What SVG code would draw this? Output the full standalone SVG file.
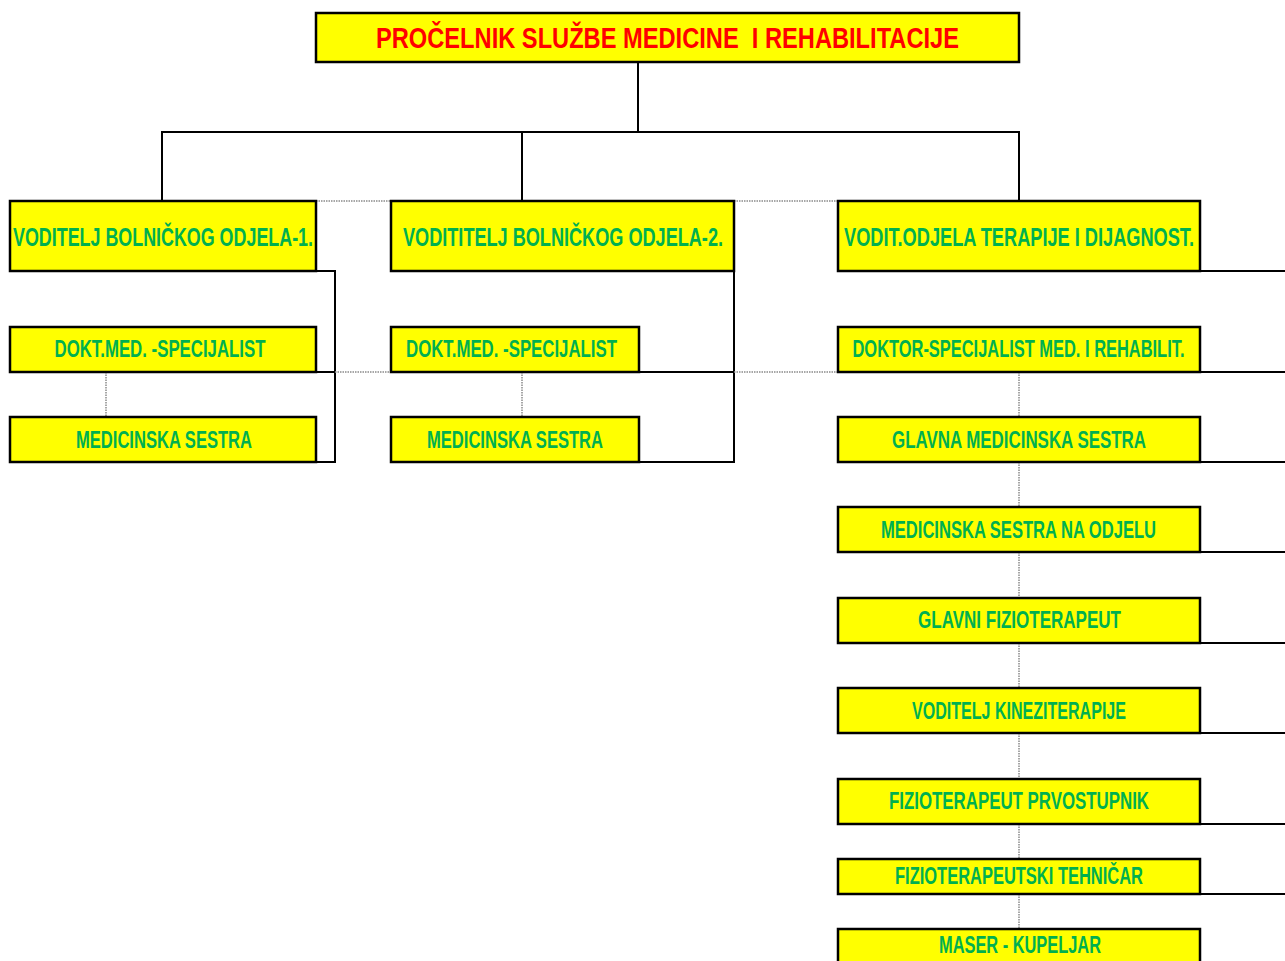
<svg xmlns="http://www.w3.org/2000/svg" width="1285" height="961" viewBox="0 0 1285 961">
<style>
.box{fill:#FFFF00;stroke:#000;stroke-width:2.5}
.t{font-family:"Liberation Sans",Arial,sans-serif;font-weight:bold;fill:#00B050;font-size:23px}
.tl{font-size:25px}
.title{font-family:"Liberation Sans",Arial,sans-serif;font-weight:bold;fill:#FF0000;font-size:29px}
.c{stroke:#000;stroke-width:2;fill:none}
.d{stroke:#8a8a8a;stroke-width:1.5;stroke-dasharray:1.5 1;fill:none}
</style>
<rect width="1285" height="961" fill="#fff"/>
<g id="connectors">
<path class="c" d="M638 62V132M161 132H1020M162 132V201M522 132V201M1019 132V201"/>
<path class="c" d="M316 271H335V462H316M316 372H335"/>
<path class="c" d="M734 271V462H639M639 372H734"/>
<path class="c" d="M1200 271H1285M1200 372H1285M1200 462H1285M1200 552H1285M1200 643H1285M1200 733H1285M1200 824H1285M1200 894H1285"/>
<path class="d" d="M316 201H390M734 201H838M335 372H390M734 372H838"/>
<path class="d" d="M106 372V417M522 372V417M1019 372V417M1019 462V507M1019 552V598M1019 643V688M1019 733V779M1019 824V859M1019 894V929"/>
</g>
<g id="n0"><rect class="box" x="316" y="13" width="703" height="49"/><text class="title" x="667.5" y="48" text-anchor="middle" textLength="583" lengthAdjust="spacingAndGlyphs" xml:space="preserve">PROČELNIK SLUŽBE MEDICINE  I REHABILITACIJE</text></g>
<g id="n1"><rect class="box" x="10" y="201" width="306" height="70"/><text class="t tl" x="163" y="246" text-anchor="middle" textLength="300" lengthAdjust="spacingAndGlyphs">VODITELJ BOLNIČKOG ODJELA-1.</text></g>
<g id="n2"><rect class="box" x="391" y="201" width="343" height="70"/><text class="t tl" x="563" y="246" text-anchor="middle" textLength="320" lengthAdjust="spacingAndGlyphs">VODITITELJ BOLNIČKOG ODJELA-2.</text></g>
<g id="n3"><rect class="box" x="838" y="201" width="362" height="70"/><text class="t tl" x="1019" y="246" text-anchor="middle" textLength="350" lengthAdjust="spacingAndGlyphs">VODIT.ODJELA TERAPIJE I DIJAGNOST.</text></g>
<g id="n4"><rect class="box" x="10" y="327" width="306" height="45"/><text class="t" x="160" y="357" text-anchor="middle" textLength="211" lengthAdjust="spacingAndGlyphs">DOKT.MED. -SPECIJALIST</text></g>
<g id="n5"><rect class="box" x="10" y="417" width="306" height="45"/><text class="t" x="164" y="447.5" text-anchor="middle" textLength="176" lengthAdjust="spacingAndGlyphs">MEDICINSKA SESTRA</text></g>
<g id="n6"><rect class="box" x="391" y="327" width="248" height="45"/><text class="t" x="511.5" y="357" text-anchor="middle" textLength="211" lengthAdjust="spacingAndGlyphs">DOKT.MED. -SPECIJALIST</text></g>
<g id="n7"><rect class="box" x="391" y="417" width="248" height="45"/><text class="t" x="515" y="447.5" text-anchor="middle" textLength="176" lengthAdjust="spacingAndGlyphs">MEDICINSKA SESTRA</text></g>
<g id="n8"><rect class="box" x="838" y="327" width="362" height="45"/><text class="t" x="1018.5" y="357" text-anchor="middle" textLength="332" lengthAdjust="spacingAndGlyphs">DOKTOR-SPECIJALIST MED. I REHABILIT.</text></g>
<g id="n9"><rect class="box" x="838" y="417" width="362" height="45"/><text class="t" x="1019" y="447.5" text-anchor="middle" textLength="254" lengthAdjust="spacingAndGlyphs">GLAVNA MEDICINSKA SESTRA</text></g>
<g id="n10"><rect class="box" x="838" y="507" width="362" height="45"/><text class="t" x="1018.5" y="537.5" text-anchor="middle" textLength="275" lengthAdjust="spacingAndGlyphs">MEDICINSKA SESTRA NA ODJELU</text></g>
<g id="n11"><rect class="box" x="838" y="598" width="362" height="45"/><text class="t" x="1019.5" y="628" text-anchor="middle" textLength="203" lengthAdjust="spacingAndGlyphs">GLAVNI FIZIOTERAPEUT</text></g>
<g id="n12"><rect class="box" x="838" y="688" width="362" height="45"/><text class="t" x="1019" y="718.5" text-anchor="middle" textLength="214" lengthAdjust="spacingAndGlyphs">VODITELJ KINEZITERAPIJE</text></g>
<g id="n13"><rect class="box" x="838" y="779" width="362" height="45"/><text class="t" x="1019" y="809" text-anchor="middle" textLength="260" lengthAdjust="spacingAndGlyphs">FIZIOTERAPEUT PRVOSTUPNIK</text></g>
<g id="n14"><rect class="box" x="838" y="859" width="362" height="35"/><text class="t" x="1019" y="884" text-anchor="middle" textLength="248" lengthAdjust="spacingAndGlyphs">FIZIOTERAPEUTSKI TEHNIČAR</text></g>
<g id="n15"><rect class="box" x="838" y="929" width="362" height="45"/><text class="t" x="1020" y="953" text-anchor="middle" textLength="162" lengthAdjust="spacingAndGlyphs">MASER - KUPELJAR</text></g>
</svg>
